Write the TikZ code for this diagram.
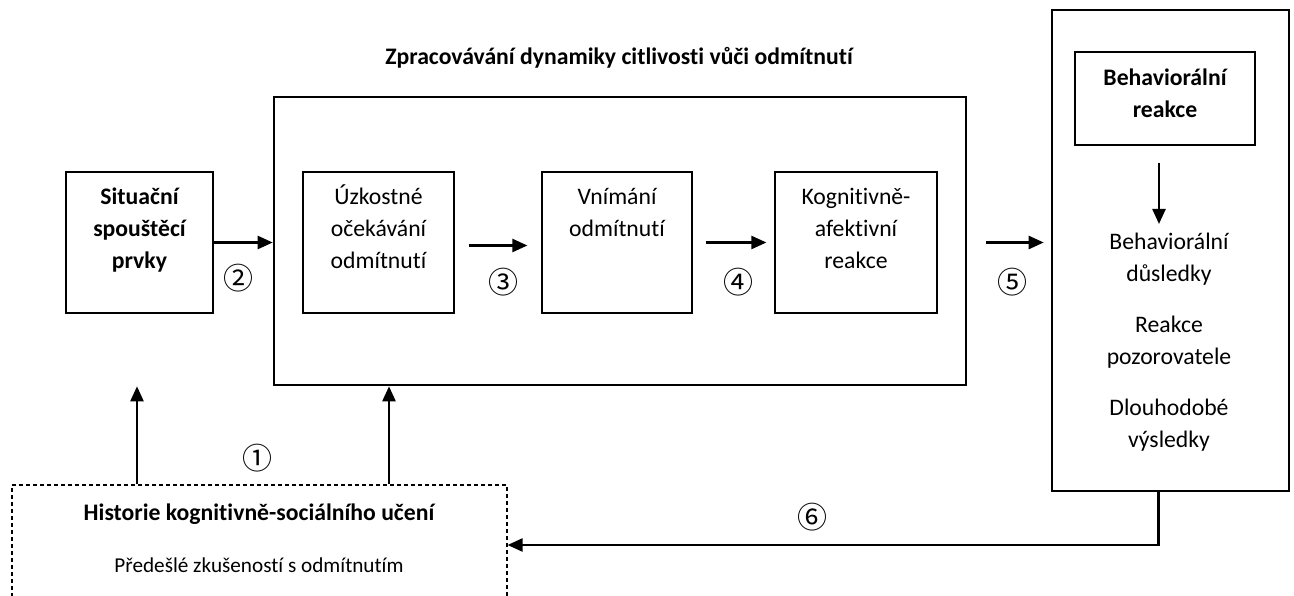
\documentclass[tikz,border=0pt]{standalone}
\usepackage{fontspec}
\setmainfont{Carlito}[Ligatures=CommonOff]
\newfontfamily\circfont{Noto Sans CJK SC}
\usetikzlibrary{arrows.meta}
\begin{document}
\begin{tikzpicture}[x=1pt,y=-1pt,
  smallbox/.style={draw, line width=1.2pt, inner sep=0pt, minimum height=141pt},
  thickbox/.style={draw, line width=2.6pt, inner sep=0pt},
  dashbox/.style={draw, line width=1.1pt, dash pattern=on 4pt off 3pt, inner sep=0pt},
  lbl/.style={font=\fontsize{23.7}{32}\selectfont, align=center, inner sep=0pt},
  lblb/.style={font=\fontsize{23.7}{32}\selectfont\bfseries, align=center, inner sep=0pt},
  small/.style={font=\fontsize{21.2}{26}\selectfont, inner sep=0pt},
  arr/.style={line width=2.4pt, -{Triangle[length=15pt,width=13pt]}},
  num/.style={font=\circfont\fontsize{30}{30}\selectfont, inner sep=0pt}]
\useasboundingbox (0,0) rectangle (1294,596);
\clip (0,0) rectangle (1294,596);

% title
\node[lblb, anchor=base] (title) at (619,65) {Zpracovávání dynamiky citlivosti vůči odmítnutí};

% boxes
\node[thickbox, minimum width=692pt, minimum height=288pt] (big) at (620,241) {};
\node[smallbox, minimum width=147pt] (sit) at (139.5,242.5) {};
\node[smallbox, minimum width=151pt] (uz) at (378.5,242.5) {};
\node[smallbox, minimum width=150pt] (vn) at (617,242.5) {};
\node[smallbox, minimum width=162pt] (kog) at (856,242.5) {};
\node[thickbox, minimum width=237pt, minimum height=481pt] (right) at (1170.5,250.5) {};
\node[smallbox, minimum width=180pt, minimum height=93pt] (inner) at (1165,98.5) {};
\node[dashbox, minimum width=495pt, minimum height=120pt] (hist) at (259.5,545) {};

% box texts
\node[lblb, anchor=north] (sitT) at (139.5,180) {\rule{0pt}{24pt}Situační\\spouštěcí\\prvky};
\node[lbl, anchor=north] (uzT) at (378.5,180) {\rule{0pt}{24pt}Úzkostné\\očekávání\\odmítnutí};
\node[lbl, anchor=north] (vnT) at (617,180) {\rule{0pt}{24pt}Vnímání\\odmítnutí};
\node[lbl, anchor=north] (kogT) at (856,180) {\rule{0pt}{24pt}Kognitivně-\\afektivní\\reakce};
\node[lblb, anchor=north] (innerT) at (1165,61) {\rule{0pt}{24pt}Behaviorální\\reakce};
\node[lbl, anchor=north] (resT) at (1169,225) {\rule{0pt}{24pt}Behaviorální\\důsledky\\[19pt]Reakce\\pozorovatele\\[19pt]Dlouhodobé\\výsledky};
\node[lblb, anchor=base] (histT) at (259,520) {Historie kognitivně-sociálního učení};
\node[small, anchor=base] (histS) at (259,572) {Předešlé zkušeností s odmítnutím};

% arrows
\draw[arr] (sit.east) -- (sit.east -| big.west);
\draw[arr, shorten <=14pt, shorten >=14pt] ([yshift=-3pt]uz.east) -- ([yshift=-3pt]vn.west);
\draw[arr, shorten <=13pt, shorten >=8pt] (vn.east) -- (kog.west);
\draw[arr] ([xshift=19pt]big.east |- sit.east) -- ([xshift=-7pt]right.west |- sit.east);
\coordinate (bd) at (1159,224);
\draw[arr] ([yshift=-17pt]inner.south -| bd) -- (bd);
\coordinate (u1) at (137,0);
\coordinate (u2) at (389,0);
\draw[arr] (u1 |- hist.north) -- (u1 |- big.south);
\draw[arr] (u2 |- hist.north) -- (u2 |- big.south);
\draw[arr] ([xshift=-12pt]right.south) |- (hist.east);

% numbers
\node[num] (n1) at (257,458) {①};
\node[num] (n2) at (238,278) {②};
\node[num] (n3) at (503,282) {③};
\node[num] (n4) at (738,282) {④};
\node[num] (n5) at (1012,282) {⑤};
\node[num] (n6) at (812,517) {⑥};
\end{tikzpicture}
\end{document}
